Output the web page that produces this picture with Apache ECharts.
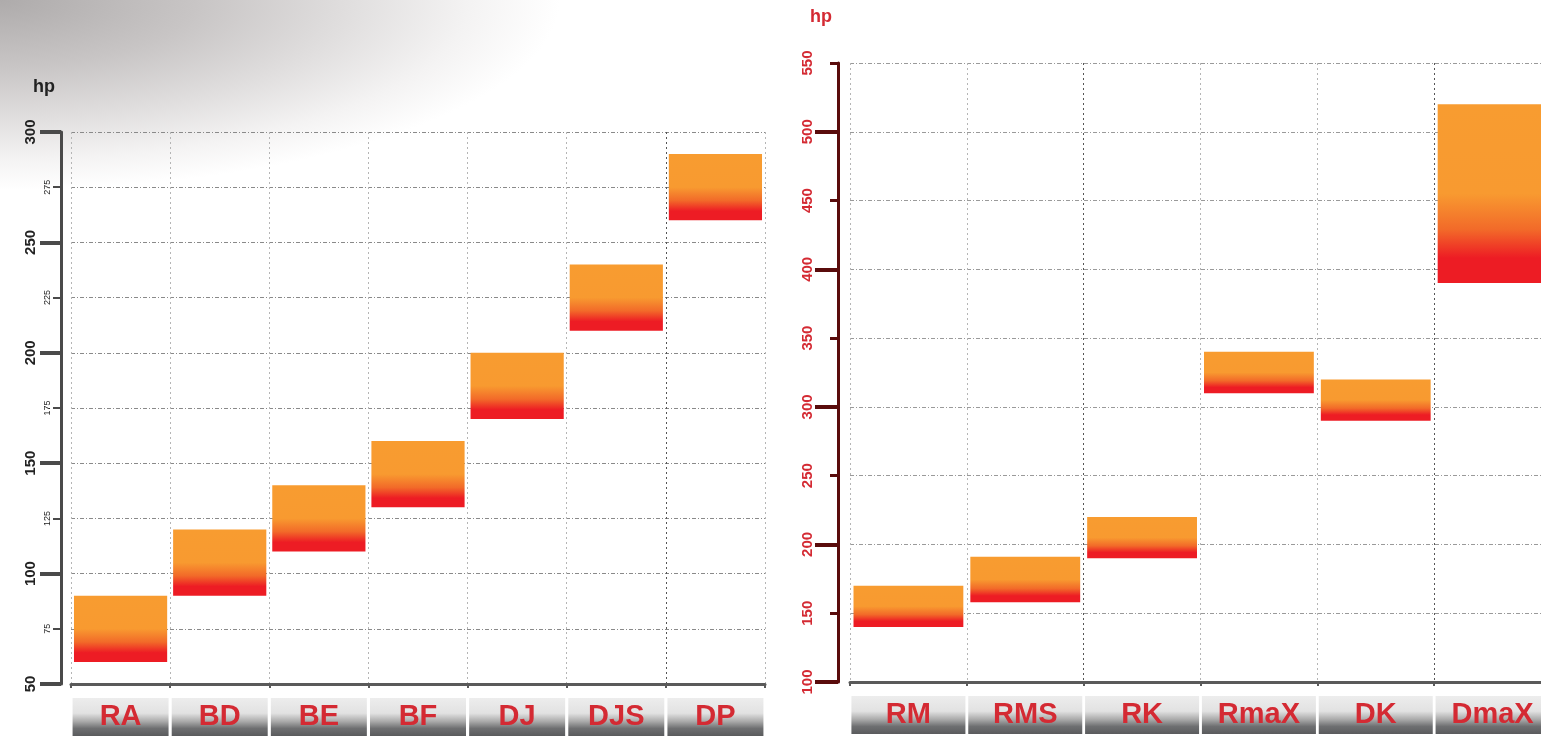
<!DOCTYPE html>
<html>
<head>
<meta charset="utf-8">
<script src="https://cdn.jsdelivr.net/npm/echarts@6/dist/echarts.min.js"></script>
<style>
  html, body { margin: 0; padding: 0; background: #fff; overflow: hidden; }
  #wrap {
    width: 1541px; height: 736px; position: relative; overflow: hidden;
    background: radial-gradient(ellipse 560px 190px at 0 0, #aeabab 0%, #c8c5c5 35%, #e0dede 62%, #f4f3f3 84%, #ffffff 100%);
  }
  #chart { width: 1560px; height: 736px; }
</style>
</head>
<body>
<div id="wrap"><div id="chart"></div></div>
<script>
// left chart
const leftCats = ["RA", "BD", "BE", "BF", "DJ", "DJS", "DP"];
const leftLow = [60, 90, 110, 130, 170, 210, 260];
const leftHigh = [90, 120, 140, 160, 200, 240, 290];
const leftMajorTicks = [50, 100, 150, 200, 250, 300];
// right chart
const rightCats = ["RM", "RMS", "RK", "RmaX", "DK", "DmaX"];
const rightLow = [140, 158, 190, 310, 290, 390];
const rightHigh = [170, 191, 220, 340, 320, 520];
const rightMajorTicks = [100, 200, 300, 400, 500];

const RED = "#d42a33";
const FONT = "Liberation Sans, Arial, sans-serif";

function barFill() {
  return new echarts.graphic.LinearGradient(0, 0, 0, 1, [
    { offset: 0, color: "#f89c30" },
    { offset: 0.5, color: "#f89a30" },
    { offset: 0.7, color: "#f26a29" },
    { offset: 0.86, color: "#ed1c24" },
    { offset: 1, color: "#ed1c24" }
  ]);
}

function boxFill() {
  return new echarts.graphic.LinearGradient(0, 0, 0, 1, [
    { offset: 0, color: "#ededed" },
    { offset: 0.4, color: "#e2e2e2" },
    { offset: 0.62, color: "#a9a9a9" },
    { offset: 0.8, color: "#6e6f71" },
    { offset: 1, color: "#5a5b5d" }
  ]);
}

function renderRange(params, api) {
  const lo = api.coord([api.value(0), api.value(1)]);
  const hi = api.coord([api.value(0), api.value(2)]);
  const w = api.size([1, 0])[0] * 0.94;
  return {
    type: "rect",
    shape: { x: lo[0] - w / 2, y: hi[1], width: w, height: lo[1] - hi[1] },
    style: { fill: barFill() }
  };
}

function rows(low, high) {
  return low.map((v, i) => [i, v, high[i]]);
}

const dashDot = [4, 2, 1, 2];

function catAxis(gridIndex, cats, boxWidth, splitColors) {
  return {
    type: "category",
    gridIndex: gridIndex,
    data: cats,
    axisLine: { lineStyle: { color: "#5a5a5a", width: 3 } },
    axisTick: { show: true, length: 4, lineStyle: { color: "#5a5a5a", width: 2 } },
    splitLine: { show: true, lineStyle: { color: splitColors, type: [2, 3], width: 1 } },
    axisLabel: {
      interval: 0, margin: 14,
      color: RED, fontSize: 29, fontWeight: "bold", fontFamily: FONT,
      width: boxWidth, height: 38, lineHeight: 38, align: "center",
      backgroundColor: boxFill()
    }
  };
}

const chart = echarts.init(document.getElementById("chart"));
chart.setOption({
  backgroundColor: "transparent",
  animation: false,
  graphic: [
    { type: "text", left: 33, top: 78, style: { text: "hp", fill: "#222", font: "bold 18px " + FONT } },
    { type: "text", left: 810, top: 8, style: { text: "hp", fill: RED, font: "bold 18px " + FONT } }
  ],
  grid: [
    { left: 71, top: 132, width: 694, height: 552 },
    { left: 850, top: 63, width: 701, height: 619 }
  ],
  xAxis: [
    catAxis(0, leftCats, 96, ["#b5b5b5", "#b5b5b5", "#b5b5b5", "#b5b5b5", "#b5b5b5", "#b5b5b5", "#555", "#b5b5b5"]),
    catAxis(1, rightCats, 114, ["#b5b5b5", "#b5b5b5", "#555", "#b5b5b5", "#b5b5b5", "#555", "#b5b5b5"])
  ],
  yAxis: [
    { // left, minor
      type: "value", gridIndex: 0, position: "left", min: 50, max: 300, interval: 25, offset: 10,
      axisLine: { show: true, lineStyle: { color: "#4a4a4a", width: 3 } },
      axisTick: { show: true, length: 8, lineStyle: { color: "#4a4a4a", width: 2 } },
      splitLine: { show: true, lineStyle: { color: "#8a8a8a", type: dashDot, width: 1 } },
      axisLabel: {
        rotate: 90, margin: 9, color: "#222", fontSize: 9, fontFamily: FONT,
        formatter: v => (v % 50 === 0 ? "" : v)
      }
    },
    { // left, major
      type: "value", gridIndex: 0, position: "left", min: 50, max: 300, interval: 50, offset: 10,
      axisLine: { show: false },
      axisTick: { show: true, length: 21, customValues: leftMajorTicks, lineStyle: { color: "#4a4a4a", width: 4 } },
      splitLine: { show: false },
      axisLabel: { rotate: 90, margin: 23, customValues: leftMajorTicks, color: "#222", fontSize: 15, fontWeight: "bold", fontFamily: FONT }
    },
    { // right, minor
      type: "value", gridIndex: 1, position: "left", min: 100, max: 550, interval: 50, offset: 12,
      axisLine: { show: true, lineStyle: { color: "#5a0c0c", width: 3 } },
      axisTick: { show: true, length: 8, lineStyle: { color: "#5a0c0c", width: 3 } },
      splitLine: { show: true, lineStyle: { color: "#9a9a9a", type: dashDot, width: 1 } },
      axisLabel: { rotate: 90, margin: 23, color: RED, fontSize: 15, fontWeight: "bold", fontFamily: FONT }
    },
    { // right, major
      type: "value", gridIndex: 1, position: "left", min: 100, max: 550, interval: 50, offset: 12,
      axisLine: { show: false },
      axisTick: { show: true, length: 23, customValues: rightMajorTicks, lineStyle: { color: "#5a0c0c", width: 4 } },
      splitLine: { show: false },
      axisLabel: { show: false }
    }
  ],
  series: [
    {
      type: "custom", xAxisIndex: 0, yAxisIndex: 0,
      renderItem: renderRange, encode: { x: 0, y: [1, 2] },
      data: rows(leftLow, leftHigh), z: 3
    },
    {
      type: "custom", xAxisIndex: 1, yAxisIndex: 2,
      renderItem: renderRange, encode: { x: 0, y: [1, 2] },
      data: rows(rightLow, rightHigh), z: 3
    }
  ]
});
</script>
</body>
</html>
